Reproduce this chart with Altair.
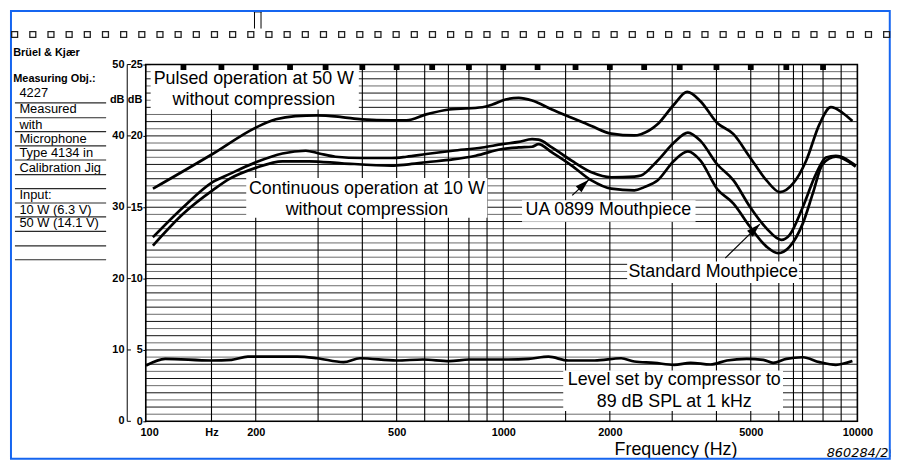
import altair as alt
import pandas as pd

FONT = "Liberation Sans"

# ---------------- data ----------------
freq_pulsed = [102.5, 151, 200, 228, 259, 298, 350, 399, 484, 533, 606, 704, 873, 932, 1015,
               1106, 1206, 1372, 1560, 1775, 2018, 2346, 2449, 2726, 3036, 3307, 3606, 4013,
               4469, 4977, 5539, 6039, 6578, 7167, 7813, 8420, 9080, 9683]
db_pulsed = [16.30, 18.73, 20.58, 21.16, 21.39, 21.44, 21.32, 21.16, 21.09, 21.09, 21.51, 21.85,
             22.01, 22.20, 22.55, 22.66, 22.48, 21.85, 21.27, 20.69, 20.16, 20.03, 20.12, 20.81,
             22.20, 23.08, 22.43, 20.92, 20.12, 18.49, 16.88, 16.06, 16.65, 18.26, 20.81, 22.01,
             21.62, 21.04]

freq_standard = [102.5, 125, 151, 169, 200, 238, 277, 302, 336, 399, 484, 533, 606, 720, 873, 994,
                 1106, 1206, 1258, 1372, 1560, 1775, 2018, 2346, 2449, 2726, 3036, 3322, 3606,
                 4013, 4469, 4977, 5539, 6100, 6440, 7015, 7644, 8153, 8696, 9892]
db_standard = [12.90, 15.02, 16.76, 17.34, 18.15, 18.77, 18.96, 18.77, 18.54, 18.45, 18.45, 18.54,
               18.73, 18.96, 19.19, 19.42, 19.58, 19.77, 19.74, 19.19, 18.26, 17.45, 17.10, 17.15,
               17.22, 18.26, 19.53, 20.23, 19.65, 18.03, 16.88, 15.02, 13.52, 12.71, 13.06, 15.02,
               17.34, 18.49, 18.61, 17.92]

freq_ua0899 = [102.5, 125, 151, 169, 200, 238, 283, 350, 484, 533, 606, 720, 836, 994, 1106, 1206,
               1258, 1372, 1560, 1775, 2018, 2346, 2502, 2726, 3036, 3322, 3606, 4013, 4469, 4977,
               5539, 5973, 6440, 7015, 7482, 7980, 8696, 9892]
db_ua0899 = [12.31, 14.56, 16.18, 17.00, 17.76, 18.22, 18.22, 18.08, 17.92, 17.99, 18.15, 18.35,
             18.61, 19.08, 19.19, 19.24, 19.42, 18.84, 17.92, 16.88, 16.30, 16.18, 16.41, 16.88,
             18.26, 18.91, 18.26, 16.30, 15.26, 13.63, 12.24, 11.78, 12.24, 13.87, 15.95, 18.03,
             18.54, 17.85]

freq_level = [98, 111, 150, 171, 190, 262, 298, 354, 394, 500, 593, 704, 801, 994, 1179, 1342, 1526,
              1813, 2153, 2346, 2669, 3036, 3381, 3846, 4280, 4869, 5422, 5783, 6300, 7015, 7813,
              8696, 9683]
db_level = [3.91, 4.38, 4.26, 4.31, 4.53, 4.53, 4.42, 4.15, 4.42, 4.26, 4.33, 4.22, 4.33, 4.33, 4.38,
            4.53, 4.26, 4.26, 4.42, 4.19, 4.10, 3.96, 4.10, 3.98, 4.26, 4.38, 4.31, 4.10, 4.38, 4.49,
            4.15, 3.96, 4.22]

x_label_values = [100, 150, 200, 500, 1000, 2000, 5000, 10000]
inner_ticks = [0, 5, 10, 15, 20, 25]
outer_labels = ["0", "10", "20", "30", "40", "50"]
grid_freqs = [150, 200, 300, 400, 500, 600, 700, 800, 900, 1000, 1500, 2000, 3000, 4000, 5000,
              6000, 6600, 7000, 8000, 9000]
marker_freqs = [125, 160, 200, 250, 315, 400, 500, 630, 800, 1000, 1250, 1600, 2000, 2500, 3150,
                4000, 5000, 6300, 8000]
grid_major = list(range(1, 25))
grid_minor = [i + 0.5 for i in range(25)]

ann_text = ["Pulsed operation at 50 W", "without compression", "Continuous operation at 10 W",
            "without compression", "UA 0899 Mouthpiece", "Standard Mouthpiece",
            "Level set by compressor to", "89 dB SPL at 1 kHz"]
ann_f = [197.5, 197.5, 412, 412, 1980, 3916, 3040, 3040]
ann_v = [24.0, 22.5, 16.3, 14.79, 14.79, 10.47, 2.87, 1.32]

box_f1 = [101, 188, 1130, 2238, 1477]
box_f2 = [391, 902, 3491, 6838, 6166]
box_v1 = [21.85, 14.27, 13.98, 9.70, 0.73]
box_v2 = [25.0, 17.05, 15.49, 11.2, 3.56]

arrow_f1 = [1566, 4236]
arrow_v1 = [15.83, 11.44]
arrow_f2 = [1744, 5307]
arrow_v2 = [16.92, 13.82]
arrow_angle = [47, 46]

panel_text = ["4227", "Measured", "with", "Microphone", "Type 4134 in", "Calibration Jig",
              "Input:", "10 W (6.3 V)", "50 W (14.1 V)"]

# ---------------- layout constants (plot-area pixel coordinates) ----------------
W, H = 718, 360
F0 = 97.83
panel_text_y = [28.7, 45, 61, 75, 89.7, 104, 132, 147, 159.7]
panel_rule_y = [38.7, 53.7, 67.7, 82, 96.3, 111, 125.3, 139.7, 153.7, 168.3, 183, 197]
SPROCKET_X0, SPROCKET_STEP, SPROCKET_N = -135.3, 18.33, 49

xs = alt.Scale(type="log", domain=[F0, 10000], nice=False)
ys = alt.Scale(domain=[0, 25], nice=False, zero=False)
one = pd.DataFrame({"k": [0]})

x_axis = alt.Axis(
    values=x_label_values,
    labelExpr="datum.value == 150 ? 'Hz' : format(datum.value, 'd')",
    grid=False, ticks=False, domain=False, title=None,
    labelFont=FONT, labelFontSize=11, labelFontWeight="bold", labelColor="black",
    labelPadding=5, labelFlush=False, labelOverlap=False)
y_axis = alt.Axis(
    values=inner_ticks, grid=False, domain=False, title=None,
    tickSize=3, tickColor="black", tickWidth=1,
    labelFont=FONT, labelFontSize=11, labelFontWeight="bold", labelColor="black",
    labelPadding=0.5)


def X(field):
    return alt.X(field, type="quantitative", scale=xs, axis=x_axis)


def Y(field):
    return alt.Y(field, type="quantitative", scale=ys, axis=y_axis)


layers = []

layers.append(alt.Chart(pd.DataFrame({"v": grid_minor})).mark_rule(color="#6a6a6a", strokeWidth=1)
              .encode(y=Y("v")))
layers.append(alt.Chart(pd.DataFrame({"v": grid_major})).mark_rule(color="#111111", strokeWidth=1)
              .encode(y=Y("v")))
layers.append(alt.Chart(pd.DataFrame({"f": grid_freqs})).mark_rule(color="black", strokeWidth=1.1)
              .encode(x=X("f")))

boxes = pd.DataFrame({"f1": box_f1, "f2": box_f2, "v1": box_v1, "v2": box_v2})
layers.append(alt.Chart(boxes).mark_rect(color="white", opacity=1)
              .encode(x=X("f1"), x2="f2", y=Y("v1"), y2="v2"))

layers.append(alt.Chart(one).mark_rect(fillOpacity=0, stroke="black", strokeWidth=1.6)
              .encode(x=alt.value(0), x2=alt.value(W), y=alt.value(0), y2=alt.value(H)))

layers.append(alt.Chart(pd.DataFrame({"f": marker_freqs})).mark_square(color="black", size=34, opacity=1)
              .encode(x=X("f"), y=alt.value(2.6)))

ann = pd.DataFrame({"f": ann_f, "v": ann_v, "t": ann_text})
layers.append(alt.Chart(ann).mark_text(font=FONT, fontSize=18, color="black", align="center",
                                       baseline="middle")
              .encode(x=X("f"), y=Y("v"), text="t:N"))

curves = pd.concat([
    pd.DataFrame({"f": freq_pulsed, "v": db_pulsed, "s": "pulsed"}),
    pd.DataFrame({"f": freq_standard, "v": db_standard, "s": "standard"}),
    pd.DataFrame({"f": freq_ua0899, "v": db_ua0899, "s": "ua0899"}),
    pd.DataFrame({"f": freq_level, "v": db_level, "s": "level"}),
])
layers.append(
    alt.Chart(curves).mark_line(color="black", strokeWidth=2.7, interpolate="monotone")
    .encode(x=X("f"), y=Y("v"), detail="s:N", order=alt.Order("f:Q"))
)

arrows = pd.DataFrame({"f1": arrow_f1, "v1": arrow_v1, "f2": arrow_f2, "v2": arrow_v2, "a": arrow_angle})
layers.append(alt.Chart(arrows).mark_rule(color="black", strokeWidth=1.2)
              .encode(x=X("f1"), x2="f2", y=Y("v1"), y2="v2"))
layers.append(alt.Chart(arrows).mark_point(shape="M0,0L0.6,2L-0.6,2Z", filled=True, color="black",
                                           size=196, opacity=1)
              .encode(x=X("f2"), y=Y("v2"), angle=alt.Angle("a:Q", scale=None)))

layers.append(alt.Chart(pd.DataFrame({"v0": [0], "v1": [25]})).mark_rule(color="black", strokeWidth=1)
              .encode(x=alt.value(-18.7), y=Y("v0"), y2="v1"))
outer = pd.DataFrame({"v": inner_ticks, "t": outer_labels})
layers.append(alt.Chart(outer).mark_rule(color="black", strokeWidth=1)
              .encode(x=alt.value(-18.7), x2=alt.value(-15), y=Y("v")))
layers.append(alt.Chart(outer).mark_text(font=FONT, fontSize=11, fontWeight="bold", color="black",
                                         align="right", baseline="middle")
              .encode(x=alt.value(-21.5), y=Y("v"), text="t:N"))
db_lab = pd.DataFrame({"v": [22.5], "t": ["dB"]})
for xv in (-21.5, -3.5):
    layers.append(alt.Chart(db_lab).mark_text(font=FONT, fontSize=11, fontWeight="bold", color="black",
                                              align="right", baseline="middle")
                  .encode(x=alt.value(xv), y=Y("v"), text="t:N"))

layers.append(alt.Chart(pd.DataFrame({"t": ["Brüel & Kjær", "Measuring Obj.:"], "py": [-11.3, 14.3]}))
              .mark_text(font=FONT, fontSize=11, fontWeight="bold", color="black", align="left",
                         baseline="middle")
              .encode(x=alt.value(-133.7), y=alt.Y("py:Q", scale=None), text="t:N"))
layers.append(alt.Chart(pd.DataFrame({"t": panel_text, "py": panel_text_y}))
              .mark_text(font=FONT, fontSize=13, color="black", align="left", baseline="middle")
              .encode(x=alt.value(-127.5), y=alt.Y("py:Q", scale=None), text="t:N"))
layers.append(alt.Chart(pd.DataFrame({"py": panel_rule_y})).mark_rule(color="#2a2a2a", strokeWidth=1.2)
              .encode(x=alt.value(-132), x2=alt.value(-40), y=alt.Y("py:Q", scale=None)))

layers.append(alt.Chart(one).mark_rect(color="black")
              .encode(x=alt.value(109), x2=alt.value(117), y=alt.value(-55), y2=alt.value(-52.6)))
for xv in (109.7, 116.3):
    layers.append(alt.Chart(one).mark_rule(color="black", strokeWidth=1)
                  .encode(x=alt.value(xv), y=alt.value(-53), y2=alt.value(-36.3)))

layers.append(alt.Chart(pd.DataFrame({"t": ["Frequency (Hz)"]}))
              .mark_text(font=FONT, fontSize=18, color="black", align="center", baseline="alphabetic")
              .encode(x=alt.value(535), y=alt.value(393.7), text="t:N"))
layers.append(alt.Chart(pd.DataFrame({"t": ["860284/26"]}))
              .mark_text(font="DejaVu Sans", fontSize=13, fontStyle="italic", color="black",
                         align="left", baseline="alphabetic")
              .encode(x=alt.value(687), y=alt.value(396.3), text="t:N"))
layers.append(alt.Chart(one).mark_rect(color="white")
              .encode(x=alt.value(751.5), x2=alt.value(770), y=alt.value(370), y2=alt.value(400)))

layers.append(alt.Chart(one).mark_rect(fillOpacity=0, stroke="#1565f0", strokeWidth=2)
              .encode(x=alt.value(-136), x2=alt.value(750.7), y=alt.value(-54), y2=alt.value(397.7)))

for k in range(SPROCKET_N):
    x0 = SPROCKET_X0 + SPROCKET_STEP * k
    layers.append(alt.Chart(one).mark_rect(fillOpacity=0, stroke="#222222", strokeWidth=1.3)
                  .encode(x=alt.value(x0), x2=alt.value(x0 + 6),
                          y=alt.value(-33.3), y2=alt.value(-27.3)))

chart = alt.layer(*layers).properties(
    width=W, height=H,
    padding={"left": 139, "top": 55, "right": 41, "bottom": 39},
    autosize=alt.AutoSizeParams(type="none"),
).configure_view(stroke=None).configure(background="white")

chart.save("out.html", embed_options={"renderer": "svg", "actions": False})
